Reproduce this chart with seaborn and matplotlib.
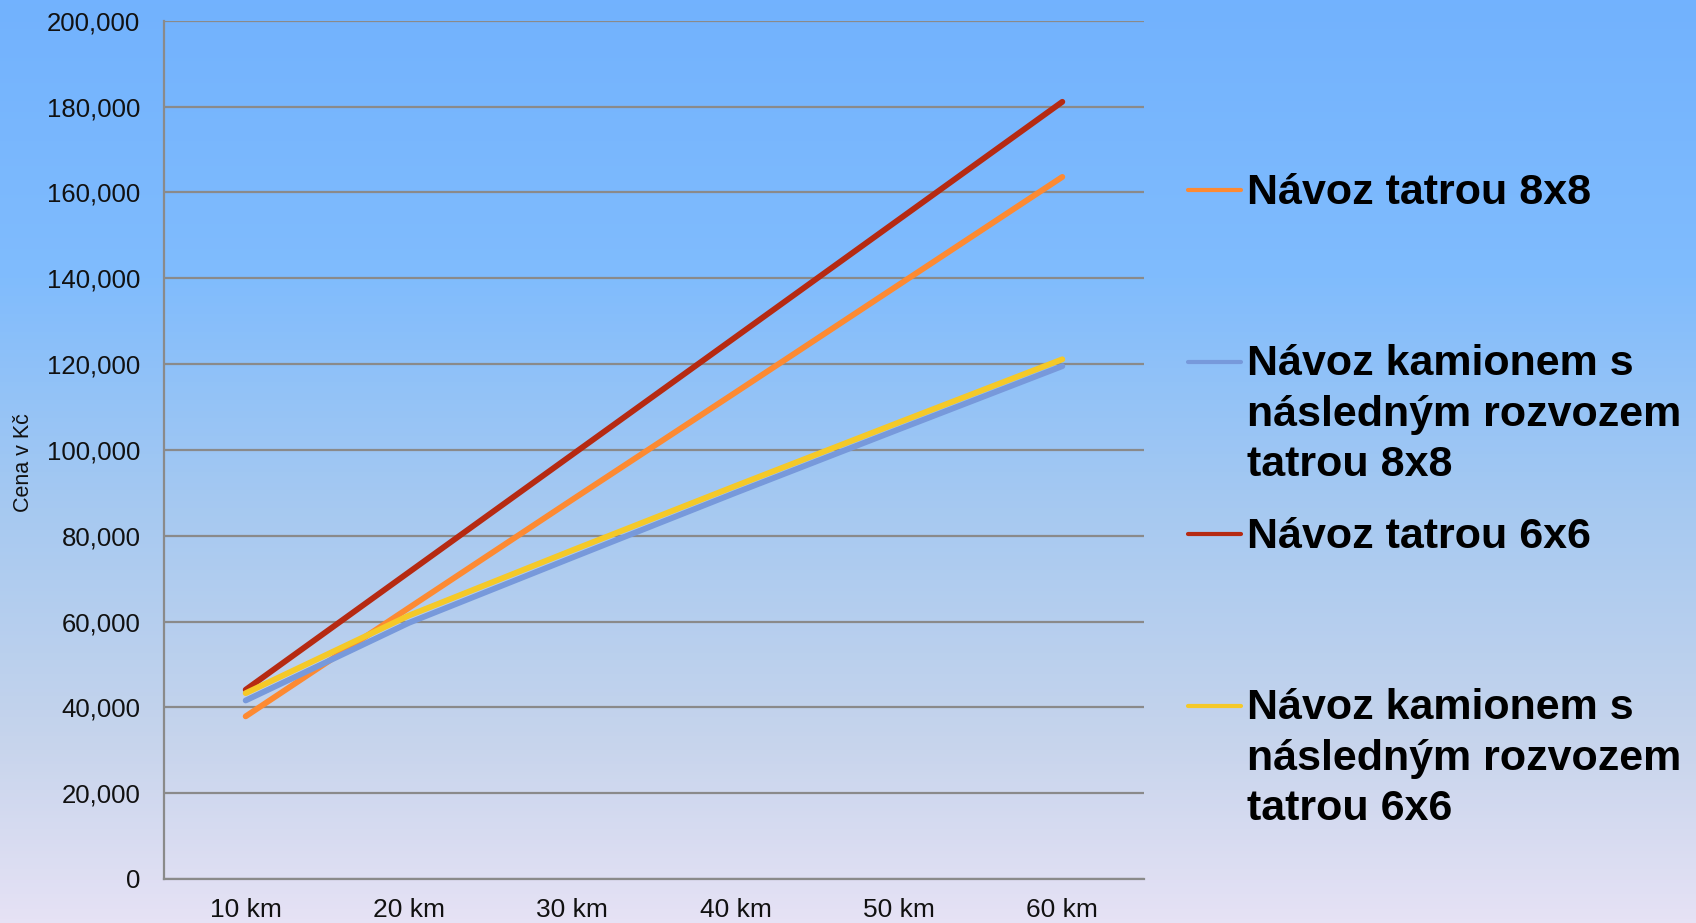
import numpy as np
import pandas as pd
import matplotlib.pyplot as plt
import seaborn as sns
from matplotlib.lines import Line2D
from matplotlib.colors import LinearSegmentedColormap

# Data
distances = ["10 km", "20 km", "30 km", "40 km", "50 km", "60 km"]
tatra_8x8 = [37900, 63200, 88400, 113400, 138500, 163600]
truck_then_8x8 = [41600, 59700, 74900, 90000, 104800, 119500]
tatra_6x6 = [44100, 71500, 98900, 126300, 153700, 181100]
truck_then_6x6 = [43300, 61400, 76600, 91600, 106400, 121100]

series_names = [
    "Návoz tatrou 8x8",
    "Návoz kamionem s\nnásledným rozvozem\ntatrou 8x8",
    "Návoz tatrou 6x6",
    "Návoz kamionem s\nnásledným rozvozem\ntatrou 6x6",
]
series_values = [tatra_8x8, truck_then_8x8, tatra_6x6, truck_then_6x6]
colors = ["#fd8a32", "#7799db", "#b62a12", "#f5c928"]
y_ticks = list(range(0, 200001, 20000))

# Long format for seaborn
rows = []
for name, vals in zip(series_names, series_values):
    for d, v in zip(distances, vals):
        rows.append({"Vzdálenost": d, "Cena": v, "Série": name})
df = pd.DataFrame(rows)

W, H = 1696, 923
fig = plt.figure(figsize=(W / 100, H / 100), dpi=100)

# Gradient background over the whole figure
bg = fig.add_axes([0, 0, 1, 1], zorder=-10)
cmap = LinearSegmentedColormap.from_list(
    "bg",
    [(0.0, "#72b2fe"), (0.3, "#80bcfd"), (0.55, "#a6c9f1"), (0.8, "#c6d4ec"), (1.0, "#e6e2f5")],
)
grad = np.linspace(0, 1, 256).reshape(-1, 1)
bg.imshow(grad, aspect="auto", cmap=cmap, extent=[0, 1, 0, 1], origin="upper")
bg.axis("off")

left, right = 164 / W, 1144 / W
bottom, top = (H - 879) / H, (H - 20.7) / H
ax = fig.add_axes([left, bottom, right - left, top - bottom])
ax.set_facecolor("none")

sns.lineplot(
    data=df,
    x="Vzdálenost",
    y="Cena",
    hue="Série",
    hue_order=series_names,
    palette=dict(zip(series_names, colors)),
    sort=False,
    linewidth=4.2,
    solid_capstyle="round",
    legend=False,
    ax=ax,
)

ax.set_xlim(-0.5, len(distances) - 0.5)
ax.set_ylim(0, 200000)
ax.set_yticks(y_ticks)
ax.set_yticklabels([f"{t:,}" for t in y_ticks], fontsize=18.5, family="Liberation Sans", color="#111111")
ax.set_xticks(range(len(distances)))
ax.set_xticklabels(distances, fontsize=19, family="Liberation Sans", color="#111111")
ax.tick_params(axis="y", length=0, pad=17)
ax.tick_params(axis="x", length=0, pad=14)
ax.grid(axis="y", color="#8a8a8a", linewidth=1.6)
ax.grid(axis="x", visible=False)
ax.set_axisbelow(True)
for side in ["top", "right"]:
    ax.spines[side].set_visible(False)
for side in ["left", "bottom"]:
    ax.spines[side].set_color("#8a8a8a")
    ax.spines[side].set_linewidth(1.6)

ax.set_xlabel("")
ax.set_ylabel("")
fig.text(24 / W, 1 - 463 / H, "Cena v Kč", rotation=90, ha="center", va="center",
         fontsize=15.5, family="Liberation Sans", color="#111111")

# Legend drawn beside the plot, handle aligned to the first text line
line_step = 50
for i, (name, c) in enumerate(zip(series_names, colors)):
    yc = 190 + 172 * i
    n_lines = name.count("\n") + 1
    fig.add_artist(Line2D([1188 / W, 1241 / W], [1 - yc / H, 1 - yc / H],
                          color=c, linewidth=3, solid_capstyle="round",
                          transform=fig.transFigure))
    base = yc + 14 + (n_lines - 1) * line_step
    fig.text(1247 / W, 1 - base / H, name, ha="left", va="baseline",
             fontsize=31, fontweight="bold", family="Liberation Sans",
             linespacing=1.333, color="black")

fig.savefig("out.png", dpi=100)
